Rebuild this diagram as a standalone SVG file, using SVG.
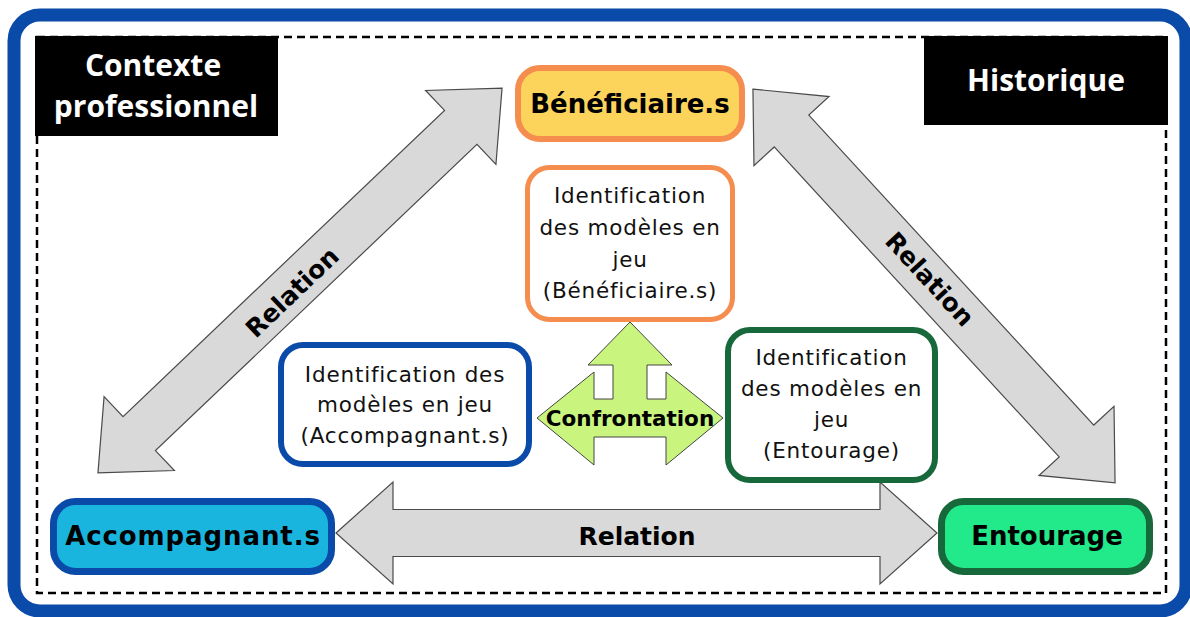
<svg xmlns="http://www.w3.org/2000/svg" width="1190" height="617" viewBox="0 0 1190 617">
<style>
.title{font-family:"Open Sans","DejaVu Sans",sans-serif;font-weight:700;font-size:30px;fill:#fff;text-anchor:middle}
.bold{font-family:"DejaVu Sans",sans-serif;font-weight:700;fill:#000;text-anchor:middle}
.reg{font-family:"DejaVu Sans",sans-serif;font-size:21.5px;letter-spacing:0.8px;fill:#111;text-anchor:middle}
.arrow{fill:#d9d9d9;stroke:#4a4a4a;stroke-width:1.2;stroke-linejoin:miter}
</style>
<rect width="1190" height="617" fill="#fff"/>
<rect x="14" y="15" width="1172" height="596" rx="26" fill="none" stroke="#0a4baa" stroke-width="13"/>
<rect x="37" y="37" width="1129" height="556" fill="none" stroke="#000" stroke-width="2.5" stroke-dasharray="8 5"/>
<g id="contexte">
<rect x="35" y="36" width="243" height="100" fill="#000"/>
<text class="title" x="153" y="76">Contexte</text>
<text class="title" x="156" y="117">professionnel</text>
</g>
<g id="historique">
<rect x="924" y="36" width="244" height="89" fill="#000"/>
<text class="title" x="1046" y="91">Historique</text>
</g>
<g id="connectors">
<path class="arrow" d="M336,533 L393,482 L393,509.5 L880,509.5 L880,482 L937,533 L880,584 L880,556.5 L393,556.5 L393,584 Z"/>
<text class="bold" font-size="25" x="637" y="545">Relation</text>
<g transform="translate(300,280.5) rotate(-43.6)">
<path class="arrow" d="M-279,0 L-222,-51 L-222,-23.5 L222,-23.5 L222,-51 L279,0 L222,51 L222,23.5 L-222,23.5 L-222,51 Z"/>
</g>
<text class="bold" font-size="25" transform="translate(292,292) rotate(-43.6)" x="0" y="9">Relation</text>
<g transform="translate(934,286) rotate(47.4)">
<path class="arrow" d="M-267.5,0 L-210.5,-51 L-210.5,-23.5 L210.5,-23.5 L210.5,-51 L267.5,0 L210.5,51 L210.5,23.5 L-210.5,23.5 L-210.5,51 Z"/>
</g>
<text class="bold" font-size="25" transform="translate(930,279) rotate(47.4)" x="0" y="9">Relation</text>
</g>
<g id="beneficiaire">
<rect x="518" y="68" width="224" height="71" rx="22" fill="#fcd45c" stroke="#f58d4e" stroke-width="6"/>
<text class="bold" font-size="26" x="630" y="113">Bénéficiaire.s</text>
</g>
<g id="accompagnant">
<rect x="53.5" y="501.5" width="278" height="70" rx="22" fill="#19b5df" stroke="#0a4baa" stroke-width="7"/>
<text class="bold" font-size="26" letter-spacing="0.9" x="193" y="545">Accompagnant.s</text>
</g>
<g id="entourage">
<rect x="941.5" y="501.5" width="208" height="70" rx="22" fill="#22e98a" stroke="#17683a" stroke-width="7"/>
<text class="bold" font-size="26" x="1047" y="545">Entourage</text>
</g>
<g id="ident-beneficiaire">
<rect x="527.5" y="167.5" width="205" height="152" rx="22" fill="#fff" stroke="#f58d4e" stroke-width="5"/>
<text class="reg" x="630" y="203">Identification</text>
<text class="reg" x="630" y="235">des modèles en</text>
<text class="reg" x="630" y="267">jeu</text>
<text class="reg" x="630" y="298">(Bénéficiaire.s)</text>
</g>
<g id="ident-accompagnant">
<rect x="281" y="345" width="248" height="119" rx="22" fill="#fff" stroke="#0a4baa" stroke-width="6"/>
<text class="reg" x="405" y="382">Identification des</text>
<text class="reg" x="405" y="412">modèles en jeu</text>
<text class="reg" x="405" y="443">(Accompagnant.s)</text>
</g>
<g id="ident-entourage">
<rect x="728" y="330" width="207" height="150" rx="22" fill="#fff" stroke="#17683a" stroke-width="6"/>
<text class="reg" x="831.5" y="365">Identification</text>
<text class="reg" x="831.5" y="396">des modèles en</text>
<text class="reg" x="831.5" y="427">jeu</text>
<text class="reg" x="831.5" y="458">(Entourage)</text>
</g>
<g id="confrontation">
<path d="M630,322 L672,365 L647,365 L647,399 L666,399 L666,372 L723,418 L666,465 L666,437 L594,437 L594,465 L537,418 L594,372 L594,399 L613,399 L613,365 L588,365 Z" fill="#c9f57f" stroke="#444" stroke-width="1"/>
<text class="bold" font-size="21.5" x="630" y="426">Confrontation</text>
</g>
</svg>
